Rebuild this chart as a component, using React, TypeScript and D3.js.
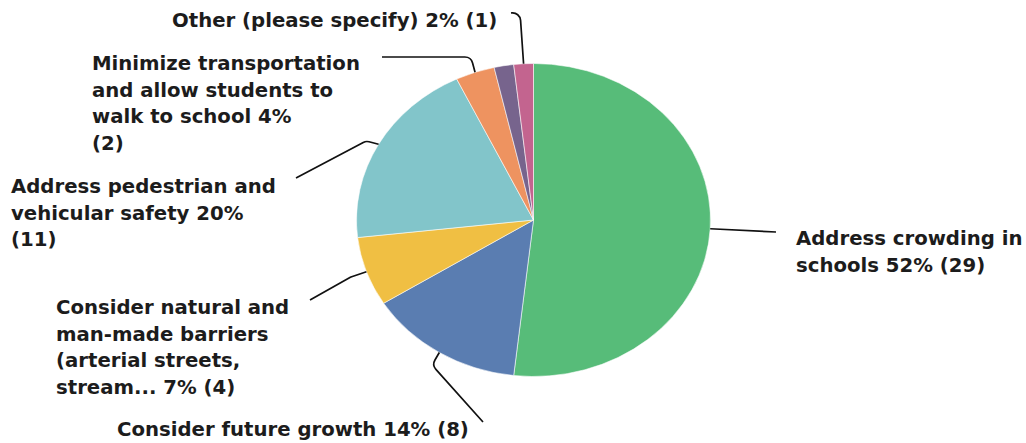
import React from "react";
import * as d3 from "d3";

const categories = [
  "Address crowding in schools",
  "Consider future growth",
  "Consider natural and man-made barriers (arterial streets, stream...",
  "Address pedestrian and vehicular safety",
  "Minimize transportation and allow students to walk to school",
  "Other option",
  "Other (please specify)",
];
const counts = [29, 8, 4, 11, 2, 1, 1];
const colors = ["#57BC79", "#5A7DB1", "#F0BF43", "#82C5CA", "#EE9360", "#77648D", "#C3648F"];
// wrapped label lines; {p} = percent, {n} = count
const labelLines: (string[] | null)[] = [
  ["Address crowding in", "schools {p}% ({n})"],
  ["Consider future growth {p}% ({n})"],
  ["Consider natural and", "man-made barriers", "(arterial streets,", "stream... {p}% ({n})"],
  ["Address pedestrian and", "vehicular safety {p}%", "({n})"],
  ["Minimize transportation", "and allow students to", "walk to school {p}%", "({n})"],
  null,
  ["Other (please specify) {p}% ({n})"],
];

const W = 1026;
const H = 443;
const cx = 533.5;
const cy = 220;
const rx = 177;
const ry = 156.5;
const FONT = "'DejaVu Sans', sans-serif";
const FS = 19.7;
const LH = 26.6;

const labelPos: ([number, number] | null)[] = [
  [796, 245],
  [117, 436],
  [56, 314],
  [11, 193],
  [92, 70],
  null,
  [172, 27],
];
const leaders: ([number, number][] | null)[] = [
  [[776, 232]],
  [[432, 365], [483, 422]],
  [[351, 277], [310, 300]],
  [[366, 141], [296, 178]],
  [[471, 57], [382, 57]],
  null,
  [[520, 12], [511, 13]],
];

export default function App() {
  const total = d3.sum(counts);
  const pie = d3.pie<number>().sort(null).value((d) => d)(counts);
  const arc = d3.arc<d3.PieArcDatum<number>>().innerRadius(0).outerRadius(rx);
  const pointAt = (a: number): [number, number] => [cx + rx * Math.sin(a), cy - ry * Math.cos(a)];

  return (
    <svg width={W} height={H} style={{ position: "absolute", left: 0, top: 0, background: "#fff" }}>
      <g transform={`translate(${cx},${cy}) scale(1,${ry / rx})`}>
        {pie.map((p, i) => (
          <path key={i} d={arc(p) || ""} fill={colors[i]} stroke="#fff" strokeWidth={0.6} />
        ))}
      </g>
      {pie.map((p, i) => {
        const pts = leaders[i];
        if (!pts) return null;
        const mid = (p.startAngle + p.endAngle) / 2;
        const s = pointAt(mid);
        const path = d3.path();
        path.moveTo(s[0], s[1]);
        if (pts.length === 1) {
          path.lineTo(pts[0][0], pts[0][1]);
        } else {
          path.arcTo(pts[0][0], pts[0][1], pts[1][0], pts[1][1], 8);
          path.lineTo(pts[1][0], pts[1][1]);
        }
        return <path key={"l" + i} d={path.toString()} fill="none" stroke="#111" strokeWidth={1.7} />;
      })}
      {counts.map((c, i) => {
        const lines = labelLines[i];
        const pos = labelPos[i];
        if (!lines || !pos) return null;
        const pct = Math.round((c / total) * 100);
        return (
          <text key={"t" + i} x={pos[0]} y={pos[1]} fontFamily={FONT} fontSize={FS} fontWeight={700} fill="#1c1c1c">
            {lines.map((ln, j) => (
              <tspan key={j} x={pos[0]} y={pos[1] + j * LH}>
                {ln.replace("{p}", String(pct)).replace("{n}", String(c))}
              </tspan>
            ))}
          </text>
        );
      })}
    </svg>
  );
}
